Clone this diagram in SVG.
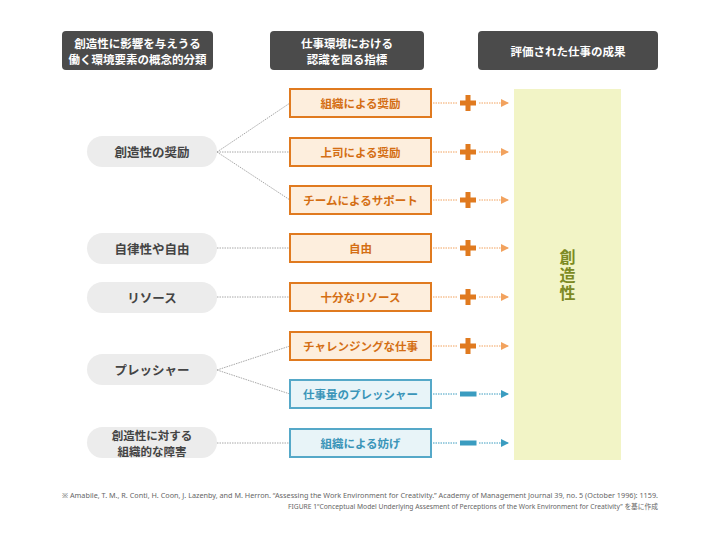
<svg xmlns="http://www.w3.org/2000/svg" width="720" height="540" viewBox="0 0 720 540">
<defs>
<style>
text{font-family:"Noto Sans CJK JP","Noto Sans",sans-serif;font-weight:bold;text-anchor:middle;dominant-baseline:central}
.hdr rect{fill:#4b4b4b}
.hdr text{fill:#fff;font-size:11.5px}
.pill rect{fill:#ececec}
.pill text{fill:#444;font-size:12.5px}
.ob rect{fill:#fdeedd;stroke:#e07a1f;stroke-width:2}
.ob text{fill:#d46e14;font-size:11.5px}
.bb rect{fill:#e8f4f8;stroke:#55a8c8;stroke-width:2}
.bb text{fill:#3a95b8;font-size:11.5px}
.vt{fill:#7d8a23;font-size:16px;writing-mode:vertical-rl;letter-spacing:2px}
.conn{stroke:#a8a8a8;stroke-width:1;stroke-dasharray:1.5 1;fill:none}
.oa{stroke:#f2a25e;stroke-width:1;stroke-dasharray:1.5 1;fill:none}
.ba{stroke:#3a9cc0;stroke-width:1;stroke-dasharray:1.5 1;fill:none}
.plus{fill:#e07a1f}
.minus{fill:#3a9cc0}
.foot{font-family:"Noto Sans","Noto Sans CJK JP",sans-serif;font-weight:normal;font-size:7px;fill:#666;text-anchor:end}
</style>
<marker id="ao" viewBox="0 0 8 8" refX="8" refY="4" markerWidth="8" markerHeight="8" markerUnits="userSpaceOnUse" orient="auto"><path d="M0,0 L8,4 L0,8 Z" fill="#f2a25e"/></marker>
<marker id="ab" viewBox="0 0 8 8" refX="8" refY="4" markerWidth="8" markerHeight="8" markerUnits="userSpaceOnUse" orient="auto"><path d="M0,0 L8,4 L0,8 Z" fill="#3a9cc0"/></marker>
</defs>
<rect width="720" height="540" fill="#fff"/>

<g id="h1" class="hdr"><rect x="62" y="31" width="151" height="39" rx="4"/><text x="137.5" y="43">創造性に影響を与えうる</text><text x="137.5" y="59">働く環境要素の概念的分類</text></g>
<g id="h2" class="hdr"><rect x="270" y="31" width="154" height="39" rx="4"/><text x="347" y="43">仕事環境における</text><text x="347" y="59">認識を図る指標</text></g>
<g id="h3" class="hdr"><rect x="478" y="31" width="180" height="39" rx="4"/><text x="568" y="50.5">評価された仕事の成果</text></g>

<g id="outcome"><rect x="514" y="89" width="107" height="371" fill="#f2f4c6"/><text class="vt" x="567.5" y="276">創造性</text></g>

<g id="connectors">
<path class="conn" d="M217,152 L290,103 M217,152 L290,152 M217,152 L290,200 M217,248 L290,248 M217,297 L290,297 M217,370 L290,346 M217,370 L290,394 M217,443 L290,443"/>
<path class="oa" d="M433,103 H458 M479,103 H509" marker-end="url(#ao)"/>
<path class="oa" d="M433,152 H458 M479,152 H509" marker-end="url(#ao)"/>
<path class="oa" d="M433,200 H458 M479,200 H509" marker-end="url(#ao)"/>
<path class="oa" d="M433,248 H458 M479,248 H509" marker-end="url(#ao)"/>
<path class="oa" d="M433,297 H458 M479,297 H509" marker-end="url(#ao)"/>
<path class="oa" d="M433,346 H458 M479,346 H509" marker-end="url(#ao)"/>
<path class="ba" d="M433,394 H458 M479,394 H509" marker-end="url(#ab)"/>
<path class="ba" d="M433,443 H458 M479,443 H509" marker-end="url(#ab)"/>
<path class="plus" d="M465.5,95 h5 v5.5 h5.5 v5 h-5.5 v5.5 h-5 v-5.5 h-5.5 v-5 h5.5 Z"/>
<path class="plus" d="M465.5,144 h5 v5.5 h5.5 v5 h-5.5 v5.5 h-5 v-5.5 h-5.5 v-5 h5.5 Z"/>
<path class="plus" d="M465.5,192 h5 v5.5 h5.5 v5 h-5.5 v5.5 h-5 v-5.5 h-5.5 v-5 h5.5 Z"/>
<path class="plus" d="M465.5,240 h5 v5.5 h5.5 v5 h-5.5 v5.5 h-5 v-5.5 h-5.5 v-5 h5.5 Z"/>
<path class="plus" d="M465.5,289 h5 v5.5 h5.5 v5 h-5.5 v5.5 h-5 v-5.5 h-5.5 v-5 h5.5 Z"/>
<path class="plus" d="M465.5,338 h5 v5.5 h5.5 v5 h-5.5 v5.5 h-5 v-5.5 h-5.5 v-5 h5.5 Z"/>
<rect class="minus" x="460" y="391.5" width="16.5" height="5"/>
<rect class="minus" x="460" y="440.5" width="16.5" height="5"/>
</g>

<g id="p1" class="pill"><rect x="87" y="136" width="130" height="31" rx="15.5"/><text x="152" y="151.5">創造性の奨励</text></g>
<g id="p2" class="pill"><rect x="87" y="233" width="130" height="31" rx="15.5"/><text x="152" y="248.5">自律性や自由</text></g>
<g id="p3" class="pill"><rect x="87" y="282" width="130" height="31" rx="15.5"/><text x="152" y="297.5">リソース</text></g>
<g id="p4" class="pill"><rect x="87" y="354" width="130" height="31" rx="15.5"/><text x="152" y="369.5">プレッシャー</text></g>
<g id="p5" class="pill"><rect x="87" y="427" width="130" height="31" rx="15.5"/><text x="152" y="435" style="font-size:11.5px">創造性に対する</text><text x="152" y="451" style="font-size:11.5px">組織的な障害</text></g>

<g id="b1" class="ob"><rect x="290" y="89" width="141" height="28"/><text x="360.5" y="103">組織による奨励</text></g>
<g id="b2" class="ob"><rect x="290" y="138" width="141" height="28"/><text x="360.5" y="152">上司による奨励</text></g>
<g id="b3" class="ob"><rect x="290" y="186" width="141" height="28"/><text x="360.5" y="200">チームによるサポート</text></g>
<g id="b4" class="ob"><rect x="290" y="234" width="141" height="28"/><text x="360.5" y="248">自由</text></g>
<g id="b5" class="ob"><rect x="290" y="283" width="141" height="28"/><text x="360.5" y="297">十分なリソース</text></g>
<g id="b6" class="ob"><rect x="290" y="332" width="141" height="28"/><text x="360.5" y="346">チャレンジングな仕事</text></g>
<g id="b7" class="bb"><rect x="290" y="380" width="141" height="28"/><text x="360.5" y="394">仕事量のプレッシャー</text></g>
<g id="b8" class="bb"><rect x="290" y="429" width="141" height="28"/><text x="360.5" y="443">組織による妨げ</text></g>

<g id="footnote">
<text class="foot" x="658" y="495" textLength="596" lengthAdjust="spacingAndGlyphs">※ Amabile, T. M., R. Conti, H. Coon, J. Lazenby, and M. Herron. “Assessing the Work Environment for Creativity.” Academy of Management Journal 39, no. 5 (October 1996): 1159.</text>
<text class="foot" x="658" y="506" textLength="370" lengthAdjust="spacingAndGlyphs">FIGURE 1“Conceptual Model Underlying Assesment of Perceptions of the Work Environment for Creativity” を基に作成</text>
</g>
</svg>
